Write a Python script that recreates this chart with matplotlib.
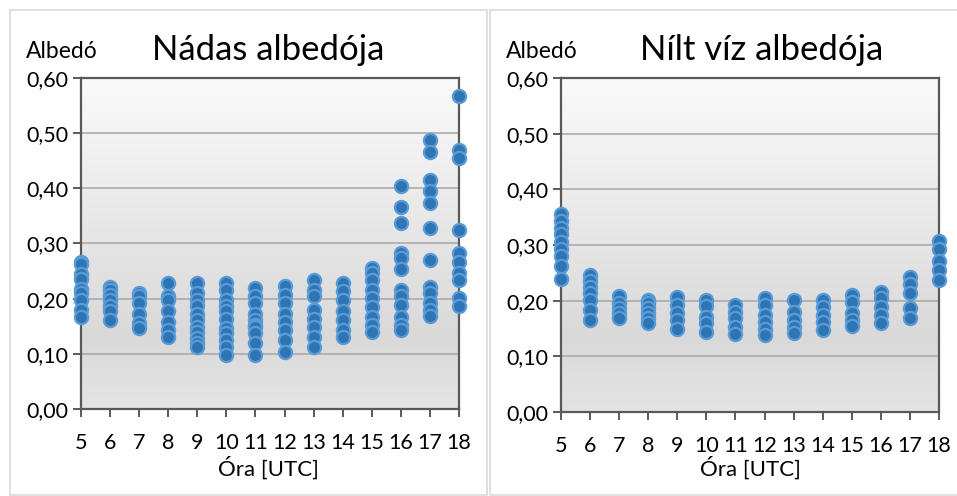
import numpy as np
import matplotlib
matplotlib.use("Agg")
import matplotlib.pyplot as plt
from matplotlib.colors import LinearSegmentedColormap
from matplotlib.patches import Rectangle

plt.rcParams['font.family'] = ['Lato', 'DejaVu Sans']

# órák (UTC)
orak = [5, 6, 7, 8, 9, 10, 11, 12, 13, 14, 15, 16, 17, 18]

# nádas albedó mérések óránként
nadas = [
    [0.267, 0.262, 0.245, 0.236, 0.218, 0.211, 0.198, 0.180, 0.166],
    [0.222, 0.216, 0.206, 0.198, 0.186, 0.178, 0.161],
    [0.210, 0.204, 0.192, 0.173, 0.155, 0.146],
    [0.229, 0.204, 0.198, 0.177, 0.158, 0.143, 0.131],
    [0.228, 0.210, 0.198, 0.186, 0.173, 0.161, 0.149, 0.140, 0.128, 0.119, 0.112],
    [0.228, 0.216, 0.198, 0.186, 0.177, 0.164, 0.146, 0.137, 0.125, 0.113, 0.097],
    [0.219, 0.204, 0.192, 0.173, 0.161, 0.152, 0.149, 0.137, 0.119, 0.097],
    [0.223, 0.207, 0.192, 0.173, 0.158, 0.143, 0.125, 0.103],
    [0.234, 0.216, 0.204, 0.180, 0.164, 0.149, 0.131, 0.113],
    [0.228, 0.213, 0.198, 0.177, 0.161, 0.143, 0.131],
    [0.255, 0.246, 0.234, 0.216, 0.201, 0.184, 0.167, 0.152, 0.140],
    [0.405, 0.366, 0.338, 0.283, 0.273, 0.254, 0.216, 0.204, 0.189, 0.167, 0.152, 0.143],
    [0.488, 0.466, 0.416, 0.396, 0.373, 0.328, 0.270, 0.222, 0.210, 0.192, 0.180, 0.169],
    [0.568, 0.470, 0.455, 0.324, 0.282, 0.267, 0.246, 0.234, 0.202, 0.187],
]

# nyílt víz albedó mérések óránként
nyilt_viz = [
    [0.355, 0.343, 0.331, 0.319, 0.305, 0.293, 0.281, 0.263, 0.239],
    [0.246, 0.236, 0.224, 0.214, 0.201, 0.183, 0.166],
    [0.208, 0.195, 0.186, 0.177, 0.168],
    [0.201, 0.195, 0.186, 0.177, 0.168, 0.159],
    [0.207, 0.192, 0.177, 0.165, 0.150],
    [0.202, 0.190, 0.171, 0.159, 0.144],
    [0.192, 0.180, 0.168, 0.153, 0.141],
    [0.205, 0.193, 0.174, 0.162, 0.150, 0.138],
    [0.201, 0.180, 0.165, 0.153, 0.142],
    [0.201, 0.189, 0.174, 0.162, 0.147],
    [0.210, 0.198, 0.177, 0.165, 0.154],
    [0.215, 0.204, 0.189, 0.174, 0.159],
    [0.242, 0.230, 0.213, 0.186, 0.168],
    [0.308, 0.293, 0.272, 0.255, 0.237],
]

y_ticks = [0.0, 0.1, 0.2, 0.3, 0.4, 0.5, 0.6]

W, H = 957, 496
fig = plt.figure(figsize=(W / 100, H / 100), dpi=100)

# keretek a két diagram körül
for x0, x1 in [(10, 487), (490, 960)]:
    fig.patches.append(Rectangle((x0 / W, 1 - 495 / H), (x1 - x0) / W, 485 / H,
                                 transform=fig.transFigure, fill=False,
                                 edgecolor='#d9d9d9', linewidth=1.2))

hatter = LinearSegmentedColormap.from_list(
    'hatter', [(0.0, '#e4e4e4'), (0.22, '#d9d9d9'), (1.0, '#fafafa')])


def rajzol(rect, adatok, cim, cim_x, xlabel_x):
    ax = fig.add_axes(rect)
    grad = np.linspace(0, 1, 256).reshape(-1, 1)
    ax.imshow(grad, extent=[0, 1, 0, 1], transform=ax.transAxes, aspect='auto',
              cmap=hatter, origin='lower', zorder=0)
    ax.set_xlim(5, 18)
    ax.set_ylim(0, 0.6)
    for y in y_ticks[1:-1]:
        ax.axhline(y, color='#a6a6a6', linewidth=1.1, zorder=1)
    for ora, ertekek in zip(orak, adatok):
        ax.plot([ora] * len(ertekek), ertekek, linestyle='none', marker='o',
                markersize=9.5, markerfacecolor='#2e75b6',
                markeredgecolor='#5b9bd5', markeredgewidth=1.6,
                clip_on=False, zorder=5)
    for s in ax.spines.values():
        s.set_color('#595959')
        s.set_linewidth(1.6)
        s.set_zorder(4)
    ax.set_xticks(orak)
    ax.set_xticklabels([str(o) for o in orak], fontsize=15.5)
    ax.set_yticks(y_ticks)
    ax.set_yticklabels([f"{v:.2f}".replace('.', ',') for v in y_ticks], fontsize=15.5)
    ax.tick_params(axis='both', direction='out', length=6, width=1.4,
                   color='#595959', labelcolor='black')
    ax.tick_params(axis='x', pad=11)
    ax.tick_params(axis='y', pad=3)
    fig.text(cim_x, 1 - 50 / H, cim, fontsize=25, ha='center', va='center')
    fig.text(rect[0] - 55 / W, 1 - 52 / H, 'Albedó', fontsize=16.5, ha='left', va='center')
    fig.text(xlabel_x, 1 - 468 / H, 'Óra [UTC]', fontsize=16, ha='center', va='center')
    return ax


rajzol([81 / W, 87 / H, 378 / W, 331 / H], nadas, 'Nádas albedója', 268 / W, 268 / W)
rajzol([561 / W, 84 / H, 378 / W, 334 / H], nyilt_viz, 'Nílt víz albedója', 762 / W, 750 / W)

fig.savefig('out.png', dpi=100)
